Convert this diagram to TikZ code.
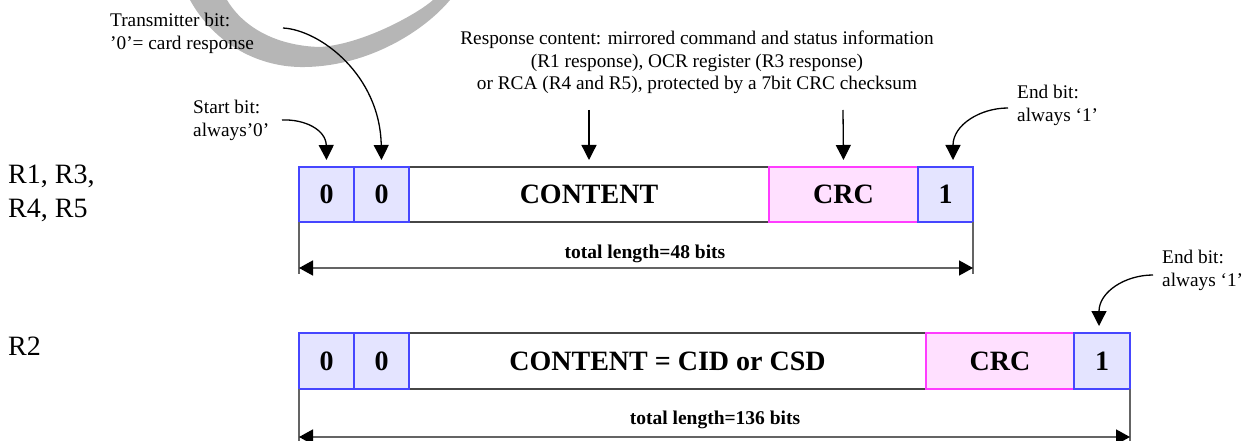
\documentclass[tikz,border=0pt]{standalone}
\usepackage{fontspec}
\setmainfont{Liberation Serif}
\usetikzlibrary{arrows.meta}
\definecolor{bitfill}{RGB}{228,228,255}
\definecolor{bitdraw}{RGB}{70,70,255}
\definecolor{crcfill}{RGB}{255,224,255}
\definecolor{crcdraw}{RGB}{255,60,255}
\definecolor{cntdraw}{RGB}{70,70,70}
\definecolor{brk}{RGB}{100,100,100}
\definecolor{wmark}{RGB}{182,182,182}
\begin{document}
\begin{tikzpicture}[x=1pt,y=-1pt,
 field/.style={rectangle, anchor=north west, inner sep=0pt, outer sep=0pt, minimum height=55pt,
   font=\fontsize{28}{30}\selectfont\bfseries, line width=1.2pt},
 bitbox/.style={field, fill=bitfill, draw=bitdraw},
 crcbox/.style={field, fill=crcfill, draw=crcdraw},
 cntbox/.style={field, fill=white, draw=cntdraw},
 note/.style={font=\fontsize{19.3}{22.5}\selectfont, inner sep=0pt},
 rowlabel/.style={font=\fontsize{28}{34}\selectfont, inner sep=0pt, align=left, anchor=north west},
 pointer/.style={-{Triangle[width=15pt,length=15pt]}, line width=1.3pt},
 span/.style={arrows={Triangle[width=15pt,length=14pt,color=black]-Triangle[width=15pt,length=14pt,color=black]}, line width=1.6pt, draw=brk},
 tick/.style={line width=1.6pt, draw=brk},
 lenlabel/.style={font=\fontsize{19.5}{22}\selectfont\bfseries, inner sep=0pt, anchor=base}]
\useasboundingbox (0,0) rectangle (1259,441);
% watermark arc
\begin{scope}
\clip (0,0) rectangle (1259,441);
\fill[wmark] (190,0) .. controls (215,45) and (260,68) .. (305,67)
   .. controls (370,66) and (425,30) .. (450,0) -- (433,0)
   .. controls (420,12) and (365,44) .. (320,47)
   .. controls (280,46) and (245,30) .. (227,0) -- cycle;
\end{scope}

% row labels
\node[rowlabel] (lab1) at (8,165) {R1, R3,\\R4, R5};
\node[rowlabel] (lab2) at (8,337) {R2};

% row 1 fields
\node[cntbox, minimum width=360pt] (c1) at (409,167) {CONTENT};
\node[bitbox, minimum width=55pt] (b1a) at (299,167) {0};
\node[bitbox, minimum width=55pt] (b1b) at (354,167) {0};
\node[crcbox, minimum width=149pt] (r1) at (769,167) {CRC};
\node[bitbox, minimum width=55pt] (e1) at (918,167) {1};

% row 2 fields
\node[cntbox, minimum width=517pt, minimum height=56pt] (c2) at (409,333) {CONTENT = CID or CSD};
\node[bitbox, minimum width=55pt, minimum height=56pt] (b2a) at (299,333) {0};
\node[bitbox, minimum width=55pt, minimum height=56pt] (b2b) at (354,333) {0};
\node[crcbox, minimum width=148pt, minimum height=56pt] (r2) at (926,333) {CRC};
\node[bitbox, minimum width=56pt, minimum height=56pt] (e2) at (1074,333) {1};

% annotations
\node[note, align=left, anchor=north west] (ntx) at (110,13) {Transmitter bit:\\'0'= card response};
\node[note, align=left, anchor=north west] (nst) at (193,100) {Start bit:\\always'0'};
\node[note, align=center, anchor=north] (nrc) at (697,31) {Response content: mirrored command and status information\\(R1 response), OCR register (R3 response)\\or RCA (R4 and R5), protected by a 7bit CRC checksum};
\node[note, align=left, anchor=north west] (ne1) at (1017,85) {End bit:\\always `1'};
\node[note, align=left, anchor=north west] (ne2) at (1162,250) {End bit:\\always `1'};

% pointer start points
\coordinate (ptx) at (283,28);
\coordinate (pst) at (282,120);
\coordinate (prc) at (589,110);
\coordinate (pcr) at (843,110);
\coordinate (pe1) at (1008,108);
\coordinate (pe2) at (1153,275);

\draw[pointer] (ptx) .. controls (320,30) and (380,75) .. ([yshift=7pt]b1b.north);
\draw[pointer] (pst) .. controls (305,119) and (326,130) .. ([yshift=7pt]b1a.north);
\draw[pointer] (prc) -- ([yshift=7pt]c1.north);
\draw[pointer] (pcr) -- ([yshift=7pt]r1.north);
\draw[pointer] (pe1) .. controls (980,108) and (953,125) .. ([xshift=7.5pt,yshift=7pt]e1.north);
\draw[pointer] (pe2) .. controls (1125,275) and (1099,292) .. ([xshift=-3pt,yshift=7pt]e2.north);

% length brackets row 1
\coordinate (k1l) at (299,274);
\coordinate (k1r) at (973,274);
\coordinate (a1l) at (299,268);
\coordinate (a1r) at (973,268);
\draw[tick] (b1a.south west) -- (k1l);
\draw[tick] (e1.south east) -- (k1r);
\draw[span] (a1l) -- (a1r);
\node[lenlabel] (len1) at (645,258) {total length=48 bits};

% length brackets row 2
\coordinate (k2l) at (299,443);
\coordinate (k2r) at (1130,443);
\coordinate (a2l) at (299,437);
\coordinate (a2r) at (1130,437);
\draw[tick] (b2a.south west) -- (k2l);
\draw[tick] (e2.south east) -- (k2r);
\draw[span] (a2l) -- (a2r);
\node[lenlabel] (len2) at (715,424) {total length=136 bits};
\end{tikzpicture}
\end{document}
